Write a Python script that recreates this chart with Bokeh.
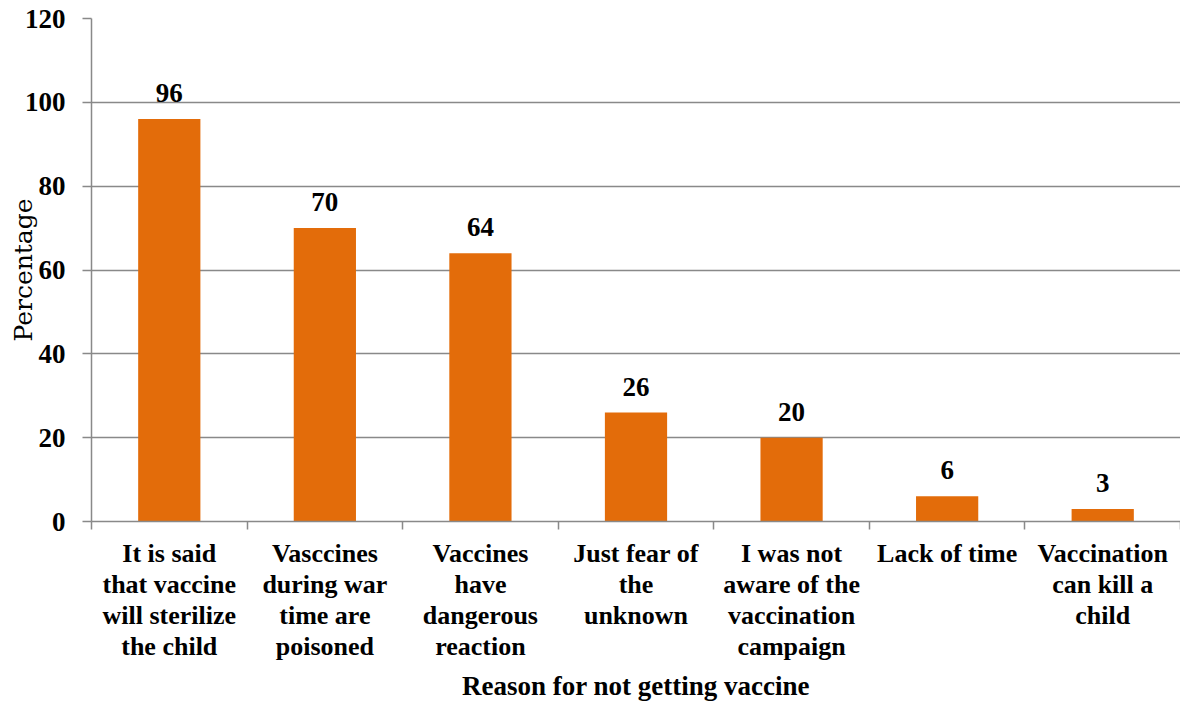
from bokeh.plotting import figure
from bokeh.models import (Range1d, LinearAxis, FixedTicker, ColumnDataSource, LabelSet)
from bokeh.embed import file_html
from bokeh.resources import INLINE

categories = [
    "It is said\nthat vaccine\nwill sterilize\nthe child",
    "Vasccines\nduring war\ntime are\npoisoned",
    "Vaccines\nhave\ndangerous\nreaction",
    "Just fear of\nthe\nunknown",
    "I was not\naware of the\nvaccination\ncampaign",
    "Lack of time",
    "Vaccination\ncan kill a\nchild",
]
values = [96, 70, 64, 26, 20, 6, 3]
y_ticks = [0, 20, 40, 60, 80, 100, 120]
y_title = "Percentage"
x_title = "Reason for not getting vaccine"

BAR = "#E36C0A"
GRAY = "#898989"
FONT = "Liberation Serif"

n = len(categories)
centers = [i + 0.5 for i in range(n)]
bounds = list(range(n + 1))

p = figure(width=1180, height=704, output_backend="svg", toolbar_location=None,
           x_range=Range1d(0, n), y_range=Range1d(0, 120),
           x_axis_location=None, y_axis_location=None,
           min_border_left=91, min_border_right=0, min_border_top=18, min_border_bottom=183)
p.outline_line_color = None
p.background_fill_color = "white"
p.border_fill_color = "white"

src = ColumnDataSource(dict(x=centers, val=values, lab=[str(v) for v in values]))
p.vbar(x="x", top="val", width=0.4, source=src, fill_color=BAR, line_color=None)

# y axis
yax = LinearAxis(ticker=FixedTicker(ticks=y_ticks))
yax.axis_line_color = GRAY
yax.axis_line_width = 1.5
yax.major_tick_line_color = GRAY
yax.major_tick_line_width = 1.5
yax.major_tick_out = 9
yax.major_tick_in = 0
yax.minor_tick_line_color = None
yax.major_label_standoff = 17
yax.major_label_text_font = FONT
yax.major_label_text_font_style = "bold"
yax.major_label_text_font_size = "27px"
yax.major_label_text_color = "black"
yax.axis_label = y_title
yax.axis_label_text_font = "DejaVu Serif"
yax.axis_label_text_font_style = "normal"
yax.axis_label_text_font_size = "25px"
yax.axis_label_text_color = "black"
yax.axis_label_standoff = -16
p.add_layout(yax, "left")

p.ygrid.ticker = FixedTicker(ticks=y_ticks)
p.ygrid.grid_line_color = GRAY
p.ygrid.grid_line_width = 1.5
p.xgrid.grid_line_color = None

# boundary tick axis (tick marks only)
tax = LinearAxis(ticker=FixedTicker(ticks=bounds),
                 major_label_overrides={b: "" for b in bounds})
tax.axis_line_color = GRAY
tax.axis_line_width = 1.5
tax.major_tick_line_color = GRAY
tax.major_tick_line_width = 1.5
tax.major_tick_out = 8
tax.major_tick_in = 0
tax.minor_tick_line_color = None
tax.major_label_text_font_size = "1px"
tax.major_label_standoff = 0
p.add_layout(tax, "below")

# category labels axis
cax = LinearAxis(ticker=FixedTicker(ticks=centers),
                 major_label_overrides={c: lab for c, lab in zip(centers, categories)})
cax.axis_line_color = None
cax.major_tick_line_color = None
cax.major_tick_out = 0
cax.major_tick_in = 0
cax.minor_tick_line_color = None
cax.major_label_standoff = 9
cax.major_label_text_font = FONT
cax.major_label_text_font_style = "bold"
cax.major_label_text_font_size = "26px"
cax.major_label_text_line_height = 1.08
cax.major_label_text_color = "black"
cax.axis_label = x_title
cax.axis_label_text_font = FONT
cax.axis_label_text_font_style = "bold"
cax.axis_label_text_font_size = "27px"
cax.axis_label_text_color = "black"
cax.axis_label_standoff = 7
p.add_layout(cax, "below")

labels = LabelSet(x="x", y="val", text="lab", source=src, text_align="center",
                  text_baseline="alphabetic", y_offset=17, text_font=FONT,
                  text_font_style="bold", text_font_size="27px", text_color="black")
p.add_layout(labels)

open("out.html", "w").write(file_html(p, INLINE))
